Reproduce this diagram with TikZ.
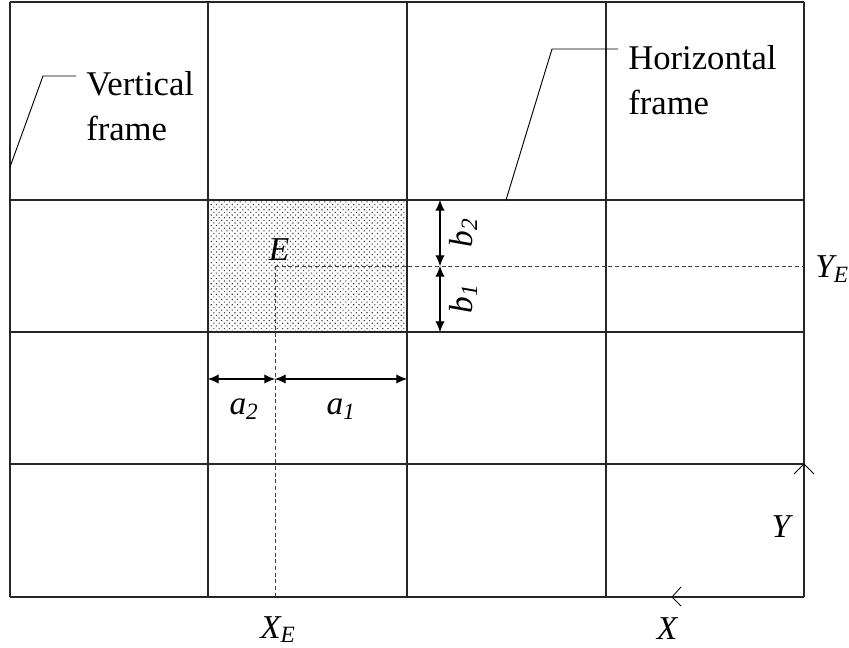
\documentclass[tikz,border=0pt]{standalone}
\usepackage{fontspec}
\setmainfont{Liberation Serif}
\usetikzlibrary{arrows.meta, positioning, patterns.meta}

\tikzset{
	gridline/.style = {draw = black!85, line width = 0.8pt},
	guideline/.style = {draw = black!75, line width = 0.6pt, dash pattern = on 3pt off 2pt},
	dimline/.style = {draw = black, line width = 0.8pt, {Latex[length = 8pt, width = 7pt]}-{Latex[length = 8pt, width = 7pt]}},
	leaderline/.style = {draw = black, line width = 0.7pt},
	axismark/.style = {draw = black, line width = 0.6pt},
	frametext/.style = {font = \fontsize{26}{34}\selectfont, align = left, inner sep = 0pt},
	symtext/.style = {font = \fontsize{25}{28}\selectfont\itshape, inner sep = 0pt}
}

\begin{document}
\begin{tikzpicture}[x = 0.75pt, y = -0.75pt]
	\path [use as bounding box, draw = none] (0, 0) rectangle (849, 648);
	% shaded cell
	\fill [pattern = {Dots[angle = 45, distance = 2.8pt, radius = 0.6pt]}, pattern color = black!75] (208, 200) rectangle (407, 332);
	\foreach \x in {10, 208, 407, 606, 804}
		\draw [gridline] (\x, 2) -- (\x, 597);
	\foreach \y in {2, 200, 332, 464, 597}
		\draw [gridline] (10, \y) -- (804, \y);

	% point E and its projections
	\coordinate (E) at (275, 266);
	\coordinate (YE end) at (804, 266);
	\coordinate (XE end) at (275, 597);
	\draw [guideline] (E) -- (YE end);
	\draw [guideline] (E) -- (XE end);
	\node [symtext] (E label) at (279, 250) {E};
	\node [symtext, anchor = west] (YE label) at (815, 269) {Y\textsubscript{E}};
	\node [symtext, anchor = base] (XE label) at (278, 638) {X\textsubscript{E}};

	% dimensions
	\coordinate (b top) at (440, 200);
	\coordinate (b mid) at (440, 266);
	\coordinate (b bot) at (440, 332);
	\draw [dimline] (b top) -- (b mid);
	\draw [dimline] (b mid) -- (b bot);
	\node [symtext, rotate = 90] (b2 label) at (463, 233) {b\textsubscript{2}};
	\node [symtext, rotate = 90] (b1 label) at (463, 299) {b\textsubscript{1}};

	\coordinate (a left) at (208, 379);
	\coordinate (a mid) at (275, 379);
	\coordinate (a right) at (407, 379);
	\draw [dimline] (a left) -- (a mid);
	\draw [dimline] (a mid) -- (a right);
	\node [symtext] (a2 label) at (244, 409) {a\textsubscript{2}};
	\node [symtext] (a1 label) at (341, 409) {a\textsubscript{1}};

	% frame labels
	\node [frametext, anchor = north west] (vert label) at (86, 71) {Vertical\\frame};
	\coordinate (vert foot) at (10, 167);
	\coordinate (vert knee) at (43, 76);
	\draw [leaderline] (vert foot) -- (vert knee) -- (76, 76);

	\node [frametext, anchor = north west] (hor label) at (628, 45) {Horizontal\\frame};
	\coordinate (hor foot) at (506, 200);
	\coordinate (hor knee) at (552, 49);
	\draw [leaderline] (hor foot) -- (hor knee) -- (618, 49);

	% axes
	\coordinate (Y tip) at (804, 464);
	\draw [axismark] (794, 474) -- (Y tip) -- (814, 474);
	\node [symtext] (Y label) at (781, 527) {Y};
	\coordinate (X tip) at (672, 597);
	\draw [axismark] (681, 587) -- (X tip) -- (681, 606);
	\node [symtext] (X label) at (667, 629) {X};
\end{tikzpicture}
\end{document}
